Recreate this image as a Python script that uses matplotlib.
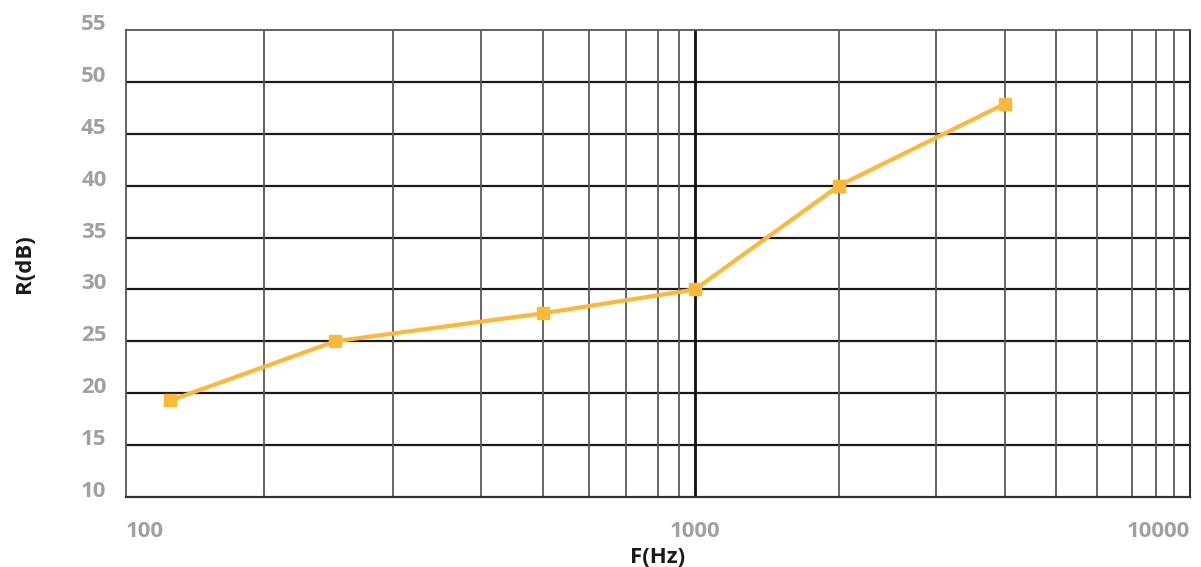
import numpy as np
import matplotlib
matplotlib.use("Agg")
import matplotlib.pyplot as plt
from matplotlib.ticker import FixedLocator, NullFormatter

plt.rcParams['font.family'] = ['Open Sans', 'DejaVu Sans']

# octave band centre frequencies and sound reduction index
freq = [125, 250, 500, 1000, 2000, 4000]
r_db = [19.3, 25.0, 27.7, 30.0, 40.0, 47.9]

major_ticks = [100, 1000, 10000]
major_labels = ['100', '1000', '10000']
minor_ticks = [200, 300, 400, 500, 600, 700, 800, 900,
               2000, 3000, 4000, 5000, 6000, 7000, 8000, 9000]
y_ticks = list(range(10, 56, 5))

# the printed frequency grid is not a true log grid, so the axis is
# calibrated against where each grid line sits along the axis (0..1)
grid_vals = [100, 200, 300, 400, 500, 600, 700, 800, 900, 1000,
             2000, 3000, 4000, 5000, 6000, 7000, 8000, 9000, 10000]
grid_frac = np.array([0, 138, 267, 355, 417, 463, 500, 532, 553, 569,
                      713, 810, 879, 930, 971, 1006, 1030, 1048, 1064]) / 1064.0
grid_log = np.log10(grid_vals)


def fwd(x):
    x = np.clip(np.asarray(x, dtype=float), 1e-9, None)
    return np.interp(np.log10(x), grid_log, grid_frac)


def inv(y):
    return 10 ** np.interp(np.asarray(y, dtype=float), grid_frac, grid_log)


fig = plt.figure(figsize=(12.01, 5.67), dpi=100)
ax = fig.add_axes([0.1049, 0.1235, 0.8859, 0.8236])
ax.set_xscale('function', functions=(fwd, inv))
ax.set_xlim(100, 10000)
ax.set_ylim(10, 55)

# grid
for v in y_ticks[1:-1]:
    ax.axhline(v, color='#1a1a1a', lw=1.6, zorder=1)
for v in minor_ticks:
    ax.axvline(v, color='#5a5a5a', lw=1.3, zorder=1)
ax.axvline(1000, color='#111111', lw=2.0, zorder=1)

ax.plot(freq, r_db, color='#FBB83B', lw=3.0, marker='s', markersize=9,
        zorder=3, clip_on=False)

ax.xaxis.set_major_locator(FixedLocator(major_ticks))
ax.xaxis.set_minor_locator(FixedLocator(minor_ticks))
ax.xaxis.set_minor_formatter(NullFormatter())
ax.set_xticks(major_ticks)
ax.set_xticklabels(major_labels)
ax.set_yticks(y_ticks)
ax.tick_params(axis='both', which='both', length=0)
ax.tick_params(axis='x', pad=17, labelsize=16, labelcolor='#a0a0a0')
ax.tick_params(axis='y', pad=14, labelsize=16, labelcolor='#a0a0a0')
for lab in ax.get_xticklabels() + ax.get_yticklabels():
    lab.set_fontweight('bold')
for lab in ax.get_yticklabels():
    lab.set_verticalalignment('baseline')
xl = ax.get_xticklabels()
xl[0].set_horizontalalignment('left')
xl[1].set_horizontalalignment('center')
xl[2].set_horizontalalignment('right')

for side in ['left', 'top']:
    ax.spines[side].set_color('#555555')
    ax.spines[side].set_linewidth(1.3)
ax.spines['right'].set_color('#333333')
ax.spines['right'].set_linewidth(1.5)
ax.spines['bottom'].set_color('#333333')
ax.spines['bottom'].set_linewidth(1.6)

ax.set_xlabel('F(Hz)', fontsize=16, fontweight='bold', color='#1a1a1a',
              labelpad=4)
ax.set_ylabel('R(dB)', fontsize=16, fontweight='bold', color='#1a1a1a',
              labelpad=33)

fig.savefig('out.png', dpi=100)
